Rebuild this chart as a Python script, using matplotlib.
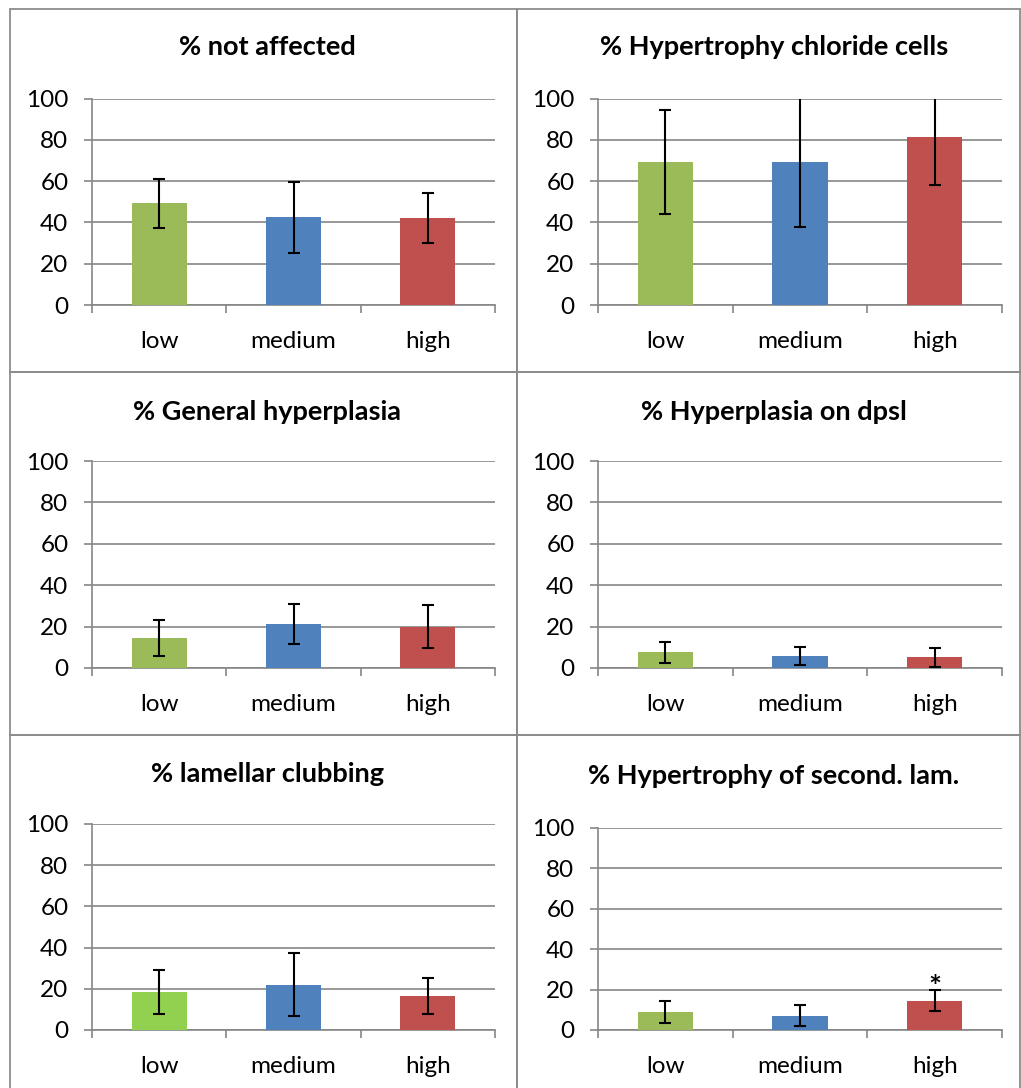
import matplotlib
matplotlib.use("Agg")
import matplotlib.pyplot as plt
from matplotlib.patches import Rectangle

plt.rcParams['font.family'] = ['Lato', 'DejaVu Sans']

categories = ['low', 'medium', 'high']

titles = ['% not affected', '% Hypertrophy chloride cells',
          '% General hyperplasia', '% Hyperplasia on dpsl',
          '% lamellar clubbing', '% Hypertrophy of second. lam.']

not_affected = [49.4, 42.6, 42.2]
not_affected_err = [11.9, 17.2, 12.2]
chloride = [69.3, 69.3, 81.4]
chloride_err = [25.0, 31.3, 23.4]
general_hyp = [14.4, 21.2, 20.0]
general_hyp_err = [8.8, 9.5, 10.2]
dpsl = [7.6, 5.7, 5.2]
dpsl_err = [5.0, 4.4, 4.6]
clubbing = [18.6, 22.0, 16.6]
clubbing_err = [10.6, 15.2, 8.8]
second_lam = [9.0, 7.1, 14.5]
second_lam_err = [5.6, 5.2, 5.3]

values = [not_affected, chloride, general_hyp, dpsl, clubbing, second_lam]
errors = [not_affected_err, chloride_err, general_hyp_err, dpsl_err,
          clubbing_err, second_lam_err]
# asterisk marks (panel index, category index)
stars = [(5, 2)]

colors = ['#9BBB59', '#4F81BD', '#C0504D']
club_colors = ['#92D050', '#4F81BD', '#C0504D']
grid_c = '#868686'

W, H = 1021, 1088
fig = plt.figure(figsize=(W / 100, H / 100), dpi=100)

def fx(px):
    return px / W

def fy(py):
    return 1 - py / H

# axes boxes in pixels: (left, top, right, bottom)
boxes = [(92, 98.7, 495, 305), (598, 98.7, 1002, 305),
         (92, 461, 495, 668), (598, 461, 1002, 668),
         (92, 824, 495, 1030), (598, 828, 1002, 1030)]
title_pos = [(267, 47), (774, 47), (267, 412), (774, 412), (267, 774), (774, 776)]

# panel frames
frame_kw = dict(transform=fig.transFigure, fill=False, edgecolor='#8C8C8C', lw=1.3)
for (x0, y0, x1, y1) in [(10, 9, 517, 372), (517, 9, 1020, 372),
                         (10, 372, 517, 735), (517, 372, 1020, 735),
                         (10, 735, 517, 1100), (517, 735, 1020, 1100)]:
    fig.patches.append(Rectangle((fx(x0), fy(y1)), fx(x1) - fx(x0), fy(y0) - fy(y1), **frame_kw))

x = range(len(categories))
for i, (l, t, r, b) in enumerate(boxes):
    ax = fig.add_axes([fx(l), fy(b), fx(r) - fx(l), fy(t) - fy(b)])
    cols = club_colors if i == 4 else colors
    ax.bar(x, values[i], width=0.41, color=cols, zorder=3)
    ax.errorbar(x, values[i], yerr=errors[i], fmt='none', ecolor='black',
                elinewidth=1.5, capsize=4.5, capthick=1.5, zorder=4)
    ax.set_xlim(-0.5, 2.5)
    ax.set_ylim(0, 100)
    ax.set_yticks([0, 20, 40, 60, 80, 100])
    ax.yaxis.grid(True, color=grid_c, lw=1.2, zorder=0)
    for s in ['top', 'right']:
        ax.spines[s].set_visible(False)
    for s in ['left', 'bottom']:
        ax.spines[s].set_color(grid_c)
        ax.spines[s].set_linewidth(1.2)
    ax.set_xticks(list(x))
    ax.set_xticklabels(categories)
    ax.set_xticks([-0.5, 0.5, 1.5, 2.5], minor=True)
    ax.tick_params(axis='x', which='major', length=0, pad=18.5, labelsize=17.5)
    ax.tick_params(axis='x', which='minor', length=6, color=grid_c, width=1.2)
    ax.tick_params(axis='y', length=6, color=grid_c, width=1.2, pad=11, labelsize=17.5)
    for (pi, ci) in stars:
        if pi == i:
            ax.text(ci, values[i][ci] + errors[i][ci] - 6, '*', ha='center',
                    va='bottom', fontsize=22, fontweight='bold')
    tx, ty = title_pos[i]
    fig.text(fx(tx), fy(ty), titles[i], ha='center', va='center',
             fontsize=19.5, fontweight='bold')

fig.savefig('out.png', dpi=100)
